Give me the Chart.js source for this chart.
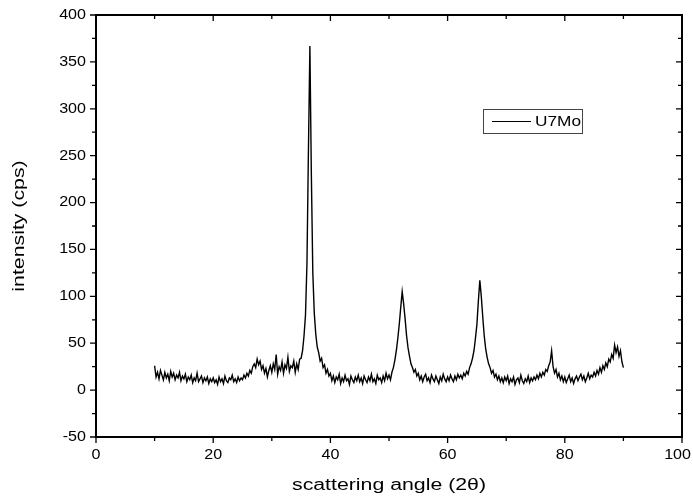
<!DOCTYPE html>
<html>
<head>
<meta charset="utf-8">
<script src="https://cdn.jsdelivr.net/npm/chart.js@4.4.1/dist/chart.umd.min.js"></script>
<style>
  html, body { margin: 0; padding: 0; background: #fff; }
  #wrap { width: 693px; height: 499px; }
</style>
</head>
<body>
<div id="wrap"><canvas id="xrd"></canvas></div>
<script>
// scan: 10 to 90 deg 2theta, every 0.25 deg
const angleStart = 10;
const angleStep = 0.25;

const intensity = [
    26, 14, 19, 12, 21, 16, 11, 19, 13, 17, 10, 20, 14, 18, 11, 16, 13, 19, 10, 15,
    12, 17, 9, 14, 11, 16, 8, 13, 10, 18, 9, 12, 15, 8, 13, 10, 14, 7, 12, 9,
    13, 8, 11, 6, 14, 9, 12, 7, 15, 10, 8, 13, 11, 16, 9, 12, 8, 14, 10, 13,
    11, 16, 13, 18, 15, 21, 18, 25, 28, 24, 33, 27, 31, 22, 26, 18, 23, 14, 21, 26,
    19, 28, 22, 38, 17, 25, 21, 30, 18, 27, 23, 35, 20, 26, 24, 31, 19, 28, 22, 33,
    34, 42, 58, 80, 135, 255, 367, 230, 125, 82, 60, 46, 40, 31, 34, 24, 27, 18, 22, 15,
    18, 10, 15, 8, 14, 11, 17, 7, 13, 9, 16, 10, 12, 6, 15, 11, 8, 14, 10, 16,
    9, 13, 7, 15, 11, 8, 14, 10, 17, 9, 12, 7, 16, 11, 13, 8, 15, 10, 18, 12,
    16, 11, 19, 24, 32, 42, 55, 70, 88, 105, 92, 76, 58, 45, 36, 28, 24, 19, 22, 15,
    18, 11, 15, 9, 14, 17, 10, 13, 8, 16, 12, 9, 15, 11, 7, 14, 10, 17, 12, 9,
    14, 10, 16, 12, 9, 15, 11, 17, 13, 16, 12, 18, 15, 20, 17, 24, 28, 34, 42, 55,
    70, 95, 117, 100, 78, 58, 44, 35, 28, 24, 18, 21, 14, 17, 11, 15, 9, 13, 8, 14,
    10, 15, 7, 12, 9, 14, 6, 11, 13, 8, 16, 10, 7, 12, 9, 15, 8, 13, 10, 14,
    11, 16, 12, 18, 14, 19, 16, 22, 20, 26, 30, 42, 25, 18, 22, 14, 18, 11, 15, 9,
    14, 8, 12, 16, 9, 13, 7, 12, 15, 10, 14, 17, 11, 15, 9, 13, 18, 12, 16, 14,
    19, 15, 21, 17, 24, 19, 26, 22, 29, 25, 33, 30, 38, 34, 48, 40, 46, 36, 42, 30,
    24
];

const xTicks = [0, 20, 40, 60, 80, 100];
const yTicks = [-50, 0, 50, 100, 150, 200, 250, 300, 350, 400];
const seriesName = "U7Mo";
const xTitle = "scattering angle (2\u03b8)";
const yTitle = "intensity (cps)";

const points = intensity.map((v, i) => ({ x: angleStart + i * angleStep, y: v }));

const fontName = "'Liberation Sans', Arial, sans-serif";

// the original lettering is drawn a bit wide, so stretch it horizontally
function wideText(ctx, text, x, y, size, sx, align, rot) {
    ctx.save();
    ctx.translate(x, y);
    if (rot) ctx.rotate(rot);
    ctx.scale(sx, 1);
    ctx.font = size + "px " + fontName;
    ctx.textAlign = align;
    ctx.textBaseline = "middle";
    ctx.fillText(text, 0, 0);
    ctx.restore();
}

// axes frame, ticks, labels, titles and legend box
const framePlugin = {
    id: 'frame',
    afterDraw(chart) {
        const { ctx, chartArea: a, scales } = chart;
        const xs = scales.x, ys = scales.y;
        ctx.save();
        ctx.strokeStyle = "#000";
        ctx.fillStyle = "#000";
        ctx.lineWidth = 2;
        ctx.strokeRect(a.left, a.top, a.right - a.left, a.bottom - a.top);

        ctx.lineWidth = 1.3;
        ctx.beginPath();
        for (let v = 0; v <= 100; v += 10) {
            const px = xs.getPixelForValue(v);
            const major = v % 20 === 0;
            ctx.moveTo(px, a.bottom);
            ctx.lineTo(px, a.bottom + (major ? 6 : 4));
            ctx.moveTo(px, a.top);
            ctx.lineTo(px, a.top + (major ? 6 : 4));
        }
        for (let v = -50; v <= 400; v += 25) {
            const py = ys.getPixelForValue(v);
            const major = v % 50 === 0;
            ctx.moveTo(a.left, py);
            ctx.lineTo(a.left - (major ? 6 : 4), py);
            ctx.moveTo(a.right, py);
            ctx.lineTo(a.right - (major ? 6 : 4), py);
        }
        ctx.stroke();

        ctx.font = "14px " + fontName;
        xTicks.forEach(v => {
            const half = ctx.measureText(String(v)).width * 1.15 / 2;
            const px = Math.min(xs.getPixelForValue(v), chart.width - 2 - half);
            wideText(ctx, String(v), px, a.bottom + 18, 14, 1.15, "center");
        });
        yTicks.forEach(v => wideText(ctx, String(v), a.left - 10, ys.getPixelForValue(v), 14, 1.15, "right"));
        wideText(ctx, xTitle, (a.left + a.right) / 2, a.bottom + 49, 16, 1.33, "center");
        wideText(ctx, yTitle, 20, (a.top + a.bottom) / 2, 16, 1.33, "center", -Math.PI / 2);

        // legend
        const bx = Math.round(a.left + (a.right - a.left) * 0.66);
        const by = Math.round(a.top + (a.bottom - a.top) * 0.222);
        const bw = 99, bh = 24;
        ctx.lineWidth = 1;
        ctx.strokeStyle = "#444";
        ctx.strokeRect(bx + 0.5, by + 0.5, bw, bh);
        ctx.strokeStyle = "#000";
        ctx.beginPath();
        ctx.moveTo(bx + 9, by + bh / 2 + 0.5);
        ctx.lineTo(bx + 48, by + bh / 2 + 0.5);
        ctx.stroke();
        wideText(ctx, seriesName, bx + 52, by + bh / 2 + 1, 15, 1.15, "left");
        ctx.restore();
    }
};

new Chart(document.getElementById("xrd"), {
    type: "line",
    data: {
        datasets: [{
            label: seriesName,
            data: points,
            borderColor: "#000",
            borderWidth: 1.4,
            pointRadius: 0,
            tension: 0,
            fill: false
        }]
    },
    options: {
        responsive: true,
        maintainAspectRatio: false,
        animation: false,
        layout: { padding: { top: 15, right: 11, left: 0, bottom: 0 } },
        plugins: {
            legend: { display: false },
            tooltip: { enabled: false }
        },
        scales: {
            x: {
                type: "linear",
                min: 0,
                max: 100,
                afterFit: s => { s.height = 62; },
                grid: { display: false },
                border: { display: false },
                ticks: { display: false }
            },
            y: {
                type: "linear",
                min: -50,
                max: 400,
                afterFit: s => { s.width = 96; },
                grid: { display: false },
                border: { display: false },
                ticks: { display: false }
            }
        }
    },
    plugins: [framePlugin]
});
</script>
</body>
</html>
